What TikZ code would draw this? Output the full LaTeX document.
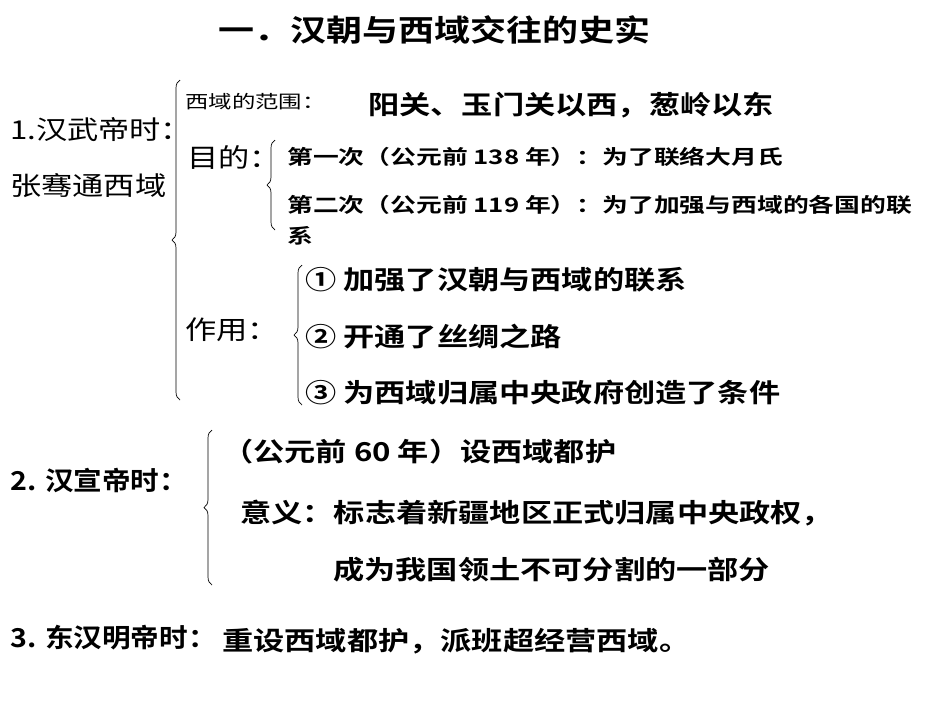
\documentclass[tikz,border=0pt]{standalone}
\usepackage{fontspec}
\usepackage{graphicx}
\setmainfont{Noto Sans CJK SC}[BoldFont={Noto Sans CJK SC Bold}]
\usetikzlibrary{decorations.pathreplacing}
\newcommand{\Wa}[1]{\scalebox{1.2}[1]{#1}}
\newcommand{\Wb}[1]{\scalebox{1.2}[1]{#1}}
\newcommand{\Wc}[1]{\scalebox{1.1}[1]{#1}}
\newcommand{\We}[1]{\scalebox{1.29}[1]{#1}}
\newcommand{\Wd}[1]{\scalebox{1.3}[1]{#1}}
\begin{document}
\begin{tikzpicture}[x=1pt,y=-1pt,
  t/.style={anchor=west,inner sep=0pt,font=\fontsize{26}{30}\selectfont\bfseries},
  l/.style={anchor=west,inner sep=0pt,font=\fontsize{26}{30}\selectfont},
  s/.style={anchor=west,inner sep=0pt,font=\fontsize{20}{24}\selectfont\bfseries},
  ss/.style={anchor=west,inner sep=0pt,font=\fontsize{18}{22}\selectfont},
  br/.style={decorate,decoration={brace,amplitude=8pt},line width=0.7pt}]
\useasboundingbox[fill=white] (0,0) rectangle (950,713);
\node[inner sep=0pt,anchor=west,font=\fontsize{30}{36}\selectfont\bfseries] (title) at (218,30) {\scalebox{1.2}[1]{一．汉朝与西域交往的史实}};
\node[l] (a1) at (10,130) {\Wa{1.汉武帝时：}};
\node[l] (a2) at (10,186) {\Wa{张骞通西域}};
\coordinate (b1s) at (180,400); \coordinate (b1e) at (180,80);
\draw[br] (b1s) -- (b1e);
\node[ss] (fw) at (185,102) {\Wd{西域的范围：}};
\node[t] (fwt) at (368,105) {\Wa{阳关、玉门关以西，葱岭以东}};
\node[l] (md) at (187,157) {\Wa{目的：}};
\coordinate (b2s) at (275,230); \coordinate (b2e) at (275,140);
\draw[br] (b2s) -- (b2e);
\node[s] (m1) at (287,157) {\We{第一次（公元前 138 年）：为了联络大月氏}};
\node[s] (m2) at (287,205) {\We{第二次（公元前 119 年）：为了加强与西域的各国的联}};
\node[s] (m3) at (287,236) {\We{系}};
\node[l] (zy) at (185,330) {\Wa{作用：}};
\coordinate (b3s) at (302,405); \coordinate (b3e) at (302,265);
\draw[br] (b3s) -- (b3e);
\node[t] (z1) at (305,280) {\Wb{① 加强了汉朝与西域的联系}};
\node[t] (z2) at (305,337) {\Wb{② 开通了丝绸之路}};
\node[t] (z3) at (305,393) {\Wb{③ 为西域归属中央政府创造了条件}};
\node[t] (c1) at (10,480) {\Wc{2. 汉宣帝时：}};
\coordinate (b4s) at (212,585); \coordinate (b4e) at (212,430);
\draw[br] (b4s) -- (b4e);
\node[t] (c2) at (222,452) {\Wa{（公元前 60 年）设西域都护}};
\node[t] (c3) at (240,513) {\Wa{意义：标志着新疆地区正式归属中央政权，}};
\node[t] (c4) at (333,570) {\Wa{成为我国领土不可分割的一部分}};
\node[t] (d1) at (10,638) {\Wc{3. 东汉明帝时：}};
\node[t] (d2) at (222,641) {\Wa{重设西域都护，派班超经营西域。}};
\end{tikzpicture}
\end{document}
